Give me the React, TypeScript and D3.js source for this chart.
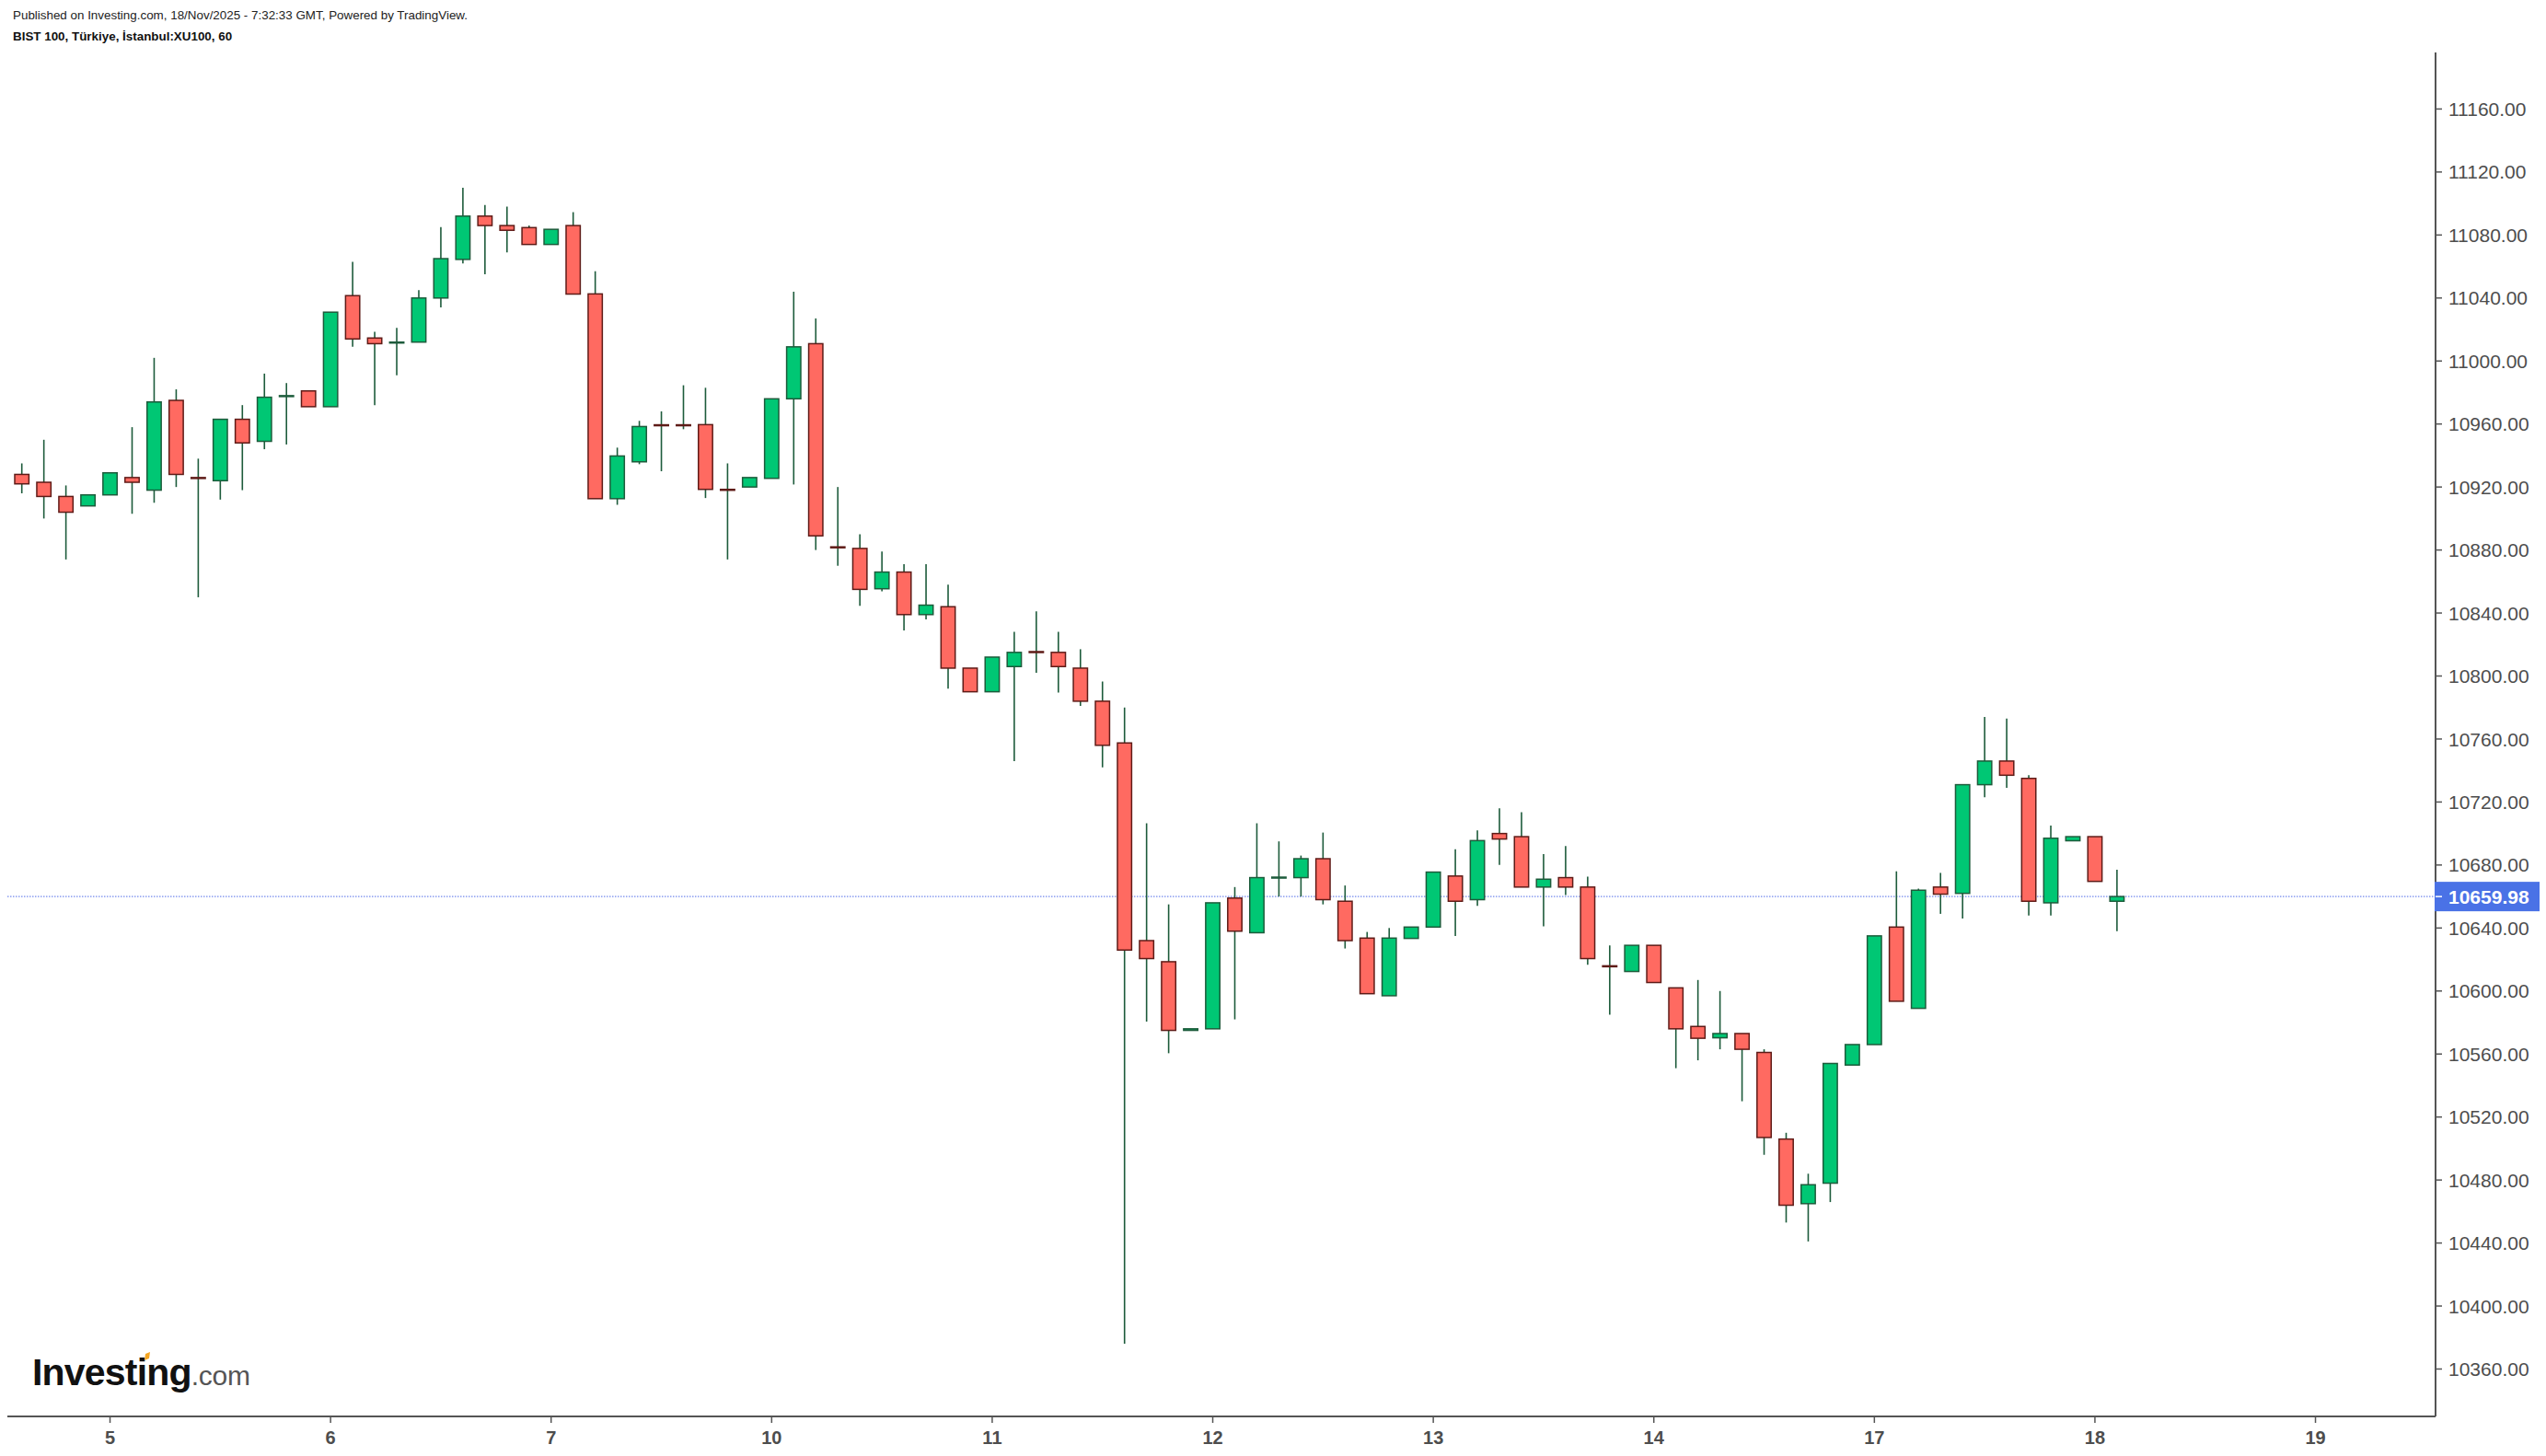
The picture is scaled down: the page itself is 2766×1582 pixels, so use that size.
import * as d3 from "d3"

// hourly bars, BIST 100 (XU100), 4 Nov 14:00 -> 18 Nov 10:00
const opens = [
  10928, 10923, 10914, 10908, 10915, 10926, 10918, 10975, 10926, 10924,
  10963, 10949, 10977.5, 10981, 10971, 11041.5, 11014.6, 11011.5, 11012, 11040,
  11064.5, 11092, 11086, 11084.7, 11074, 11086, 11042.6, 10912.6, 10936, 10959.5,
  10959.5, 10959.6, 10918.5, 10920, 10925.5, 10976, 11011, 10882, 10881, 10855.4,
  10866, 10839, 10844, 10805, 10790, 10806, 10815.5, 10815, 10805, 10784,
  10757.5, 10632, 10618.6, 10575, 10576, 10659, 10637, 10672, 10672, 10684,
  10657, 10633.6, 10597, 10633.4, 10640.6, 10673, 10658, 10700, 10698, 10666,
  10672, 10666, 10616, 10612.4, 10629, 10602, 10577.5, 10570.3, 10573, 10561,
  10506, 10465, 10478, 10553, 10566, 10640.6, 10589, 10666, 10662, 10731,
  10746, 10735, 10656, 10695.4, 10698, 10657,
]
const highs = [
  10935, 10950, 10921, 10915, 10929, 10958, 11002, 10982, 10938, 10963,
  10972, 10992, 10986, 10981, 11031, 11063, 11018.5, 11021, 11045, 11085,
  11110, 11099, 11098, 11086, 11083.6, 11094.5, 11057, 10945, 10962, 10968,
  10984.6, 10983, 10935, 10926, 10976, 11044, 11027, 10920, 10890, 10879,
  10871, 10871, 10858, 10805, 10812, 10828, 10841, 10828, 10817, 10796.5,
  10780, 10706.5, 10655, 10576, 10656, 10666, 10706.5, 10695, 10686, 10700.6,
  10667, 10637.5, 10640, 10640.6, 10675.5, 10690, 10702, 10716, 10713.5, 10687,
  10692, 10672.6, 10629, 10629, 10629, 10602, 10607, 10600, 10573, 10563,
  10510, 10484, 10554, 10566, 10635, 10676, 10665, 10675, 10731, 10774,
  10773, 10737, 10705, 10698, 10698, 10677,
]
const lows = [
  10916, 10900, 10874, 10908, 10915, 10903, 10910, 10920, 10850, 10912,
  10918, 10944, 10947, 10971, 10971, 11009, 10972, 10991, 11012, 11034,
  11062, 11055, 11069, 11074, 11074, 11042.5, 10912.6, 10908.7, 10934.5, 10930,
  10956.7, 10913, 10874, 10920, 10925.5, 10921.6, 10880, 10870, 10844.5, 10853.7,
  10829, 10836, 10792, 10790, 10790, 10746, 10802, 10789.5, 10781, 10742,
  10376, 10580.6, 10560.5, 10575, 10576, 10582, 10637, 10660, 10660, 10655,
  10627, 10598.3, 10597, 10633.4, 10640.6, 10635, 10654, 10680, 10666, 10641,
  10661, 10616.6, 10585, 10612.4, 10605.4, 10551, 10556, 10563, 10530, 10496,
  10453, 10441, 10466, 10553, 10566, 10593.5, 10589, 10649, 10646, 10723,
  10729, 10648, 10648, 10695.4, 10669.6, 10638,
]
const closes = [
  10922, 10914, 10904, 10915, 10929, 10923, 10974, 10928, 10925.5, 10963,
  10948, 10977, 10978, 10971, 11031, 11014, 11011, 11012, 11040, 11065,
  11092, 11086, 11083, 11074, 11083.6, 11042.5, 10912.6, 10939.7, 10958.4, 10959.4,
  10959.4, 10918.5, 10918, 10926, 10976, 11009, 10889, 10881.8, 10855, 10866,
  10839, 10845, 10805, 10790, 10812, 10815, 10815, 10806, 10784, 10756,
  10626, 10620.6, 10575, 10576, 10656, 10638, 10672, 10672.3, 10684, 10658,
  10632, 10598.3, 10633.6, 10640.6, 10675.5, 10657, 10695.5, 10696.5, 10666, 10671,
  10666, 10620.6, 10615.5, 10629, 10605.4, 10576, 10570, 10573, 10563, 10507,
  10464, 10477, 10554, 10566, 10635, 10593.5, 10664, 10661.5, 10731, 10746,
  10737, 10657, 10697, 10698, 10669.6, 10659.98,
]

// bar index of the first bar of each day, and the day labels
const dayIndex = [4, 14, 24, 34, 44, 54, 64, 74, 84, 94, 104]
const dayLabels = ["5", "6", "7", "10", "11", "12", "13", "14", "17", "18", "19"]

const priceTicks = d3.range(10360, 11161, 40)
const lastPrice = 10659.98

const title = "Published on Investing.com, 18/Nov/2025 - 7:32:33 GMT, Powered by TradingView."
const subtitle = "BIST 100, Türkiye, İstanbul:XU100, 60"

export default function App() {
  const width = 2766
  const height = 1582
  const plot = { left: 8, right: 2646, top: 57, bottom: 1539 }

  const x = d3.scaleLinear().domain([0, 104]).range([23.7, 23.7 + 23.96 * 104])
  const y = d3.scaleLinear().domain([10329.9, 11195.9]).range([plot.bottom, plot.top])

  const bars = opens.map((o, i) => ({ i, o, h: highs[i], l: lows[i], c: closes[i] }))
  const bodyW = 15.4

  const upFill = "#00c774"
  const upLine = "#1d5b3b"
  const downFill = "#ff6a61"
  const downLine = "#5e1b17"
  const axisColor = "#555555"
  const font = "'Liberation Sans', Arial, sans-serif"

  return (
    <svg
      width={width}
      height={height}
      style={{ position: "absolute", left: 0, top: 0, background: "#fff" }}
      fontFamily={font}
    >
      <rect width={width} height={height} fill="#fff" />

      {/* header */}
      <text x={14} y={21} fontSize={13.4} fill="#222">
        {title}
      </text>
      <text x={14} y={44} fontSize={13.4} fontWeight="bold" fill="#111">
        {subtitle}
      </text>

      {/* last price line */}
      <line
        x1={plot.left}
        x2={plot.right}
        y1={y(lastPrice)}
        y2={y(lastPrice)}
        stroke="#9aaaf2"
        strokeWidth={1.6}
        strokeDasharray="1.5 1.5"
      />

      {/* wicks */}
      <g>
        {bars.map((d) => (
          <line
            key={"w" + d.i}
            x1={x(d.i)}
            x2={x(d.i)}
            y1={y(d.h)}
            y2={y(d.l)}
            stroke={upLine}
            strokeWidth={1.6}
          />
        ))}
      </g>

      {/* bodies */}
      <g>
        {bars.map((d) => {
          const up = d.c >= d.o
          const top = y(Math.max(d.o, d.c))
          const bot = y(Math.min(d.o, d.c))
          return (
            <rect
              key={"b" + d.i}
              x={x(d.i) - bodyW / 2}
              y={top}
              width={bodyW}
              height={Math.max(bot - top, 1)}
              fill={up ? upFill : downFill}
              stroke={up ? upLine : downLine}
              strokeWidth={1.5}
            />
          )
        })}
      </g>

      {/* right price axis */}
      <line x1={plot.right} x2={plot.right} y1={plot.top} y2={plot.bottom} stroke={axisColor} strokeWidth={2} />
      {priceTicks.map((t) => (
        <g key={t} transform={`translate(${plot.right},${y(t)})`}>
          <line x1={0} x2={7} stroke={axisColor} strokeWidth={1.5} />
          <text x={14} dy="0.36em" fontSize={21} fill="#4d4d4d">
            {t.toFixed(2)}
          </text>
        </g>
      ))}

      {/* last price tag */}
      <g transform={`translate(${plot.right},${y(lastPrice)})`}>
        <rect x={-1} y={-16} width={114} height={32} fill="#4a72e6" />
        <line x1={0} x2={7} stroke="#ffffff" strokeWidth={1.5} />
        <text x={14} dy="0.36em" fontSize={21} fontWeight="bold" fill="#ffffff">
          {lastPrice.toFixed(2)}
        </text>
      </g>

      {/* bottom time axis */}
      <line x1={plot.left} x2={plot.right} y1={plot.bottom} y2={plot.bottom} stroke={axisColor} strokeWidth={2} />
      {dayIndex.map((idx, k) => (
        <g key={idx} transform={`translate(${x(idx)},${plot.bottom})`}>
          <line y1={0} y2={7} stroke={axisColor} strokeWidth={1.5} />
          <text y={30} textAnchor="middle" fontSize={20} fontWeight="bold" fill="#4d4d4d">
            {dayLabels[k]}
          </text>
        </g>
      ))}

      {/* watermark */}
      <g transform="translate(35,1505)">
        <text fontSize={41} fontWeight="bold" fill="#111" letterSpacing={-0.8}>
          Investing
          <tspan fontSize={30} fontWeight="normal" fill="#555" letterSpacing={-0.3}>
            .com
          </tspan>
        </text>
        <path d="M123,-34 l5,-2 l-1,7 l-5,2 z" fill="#f5a623" />
      </g>
    </svg>
  )
}
